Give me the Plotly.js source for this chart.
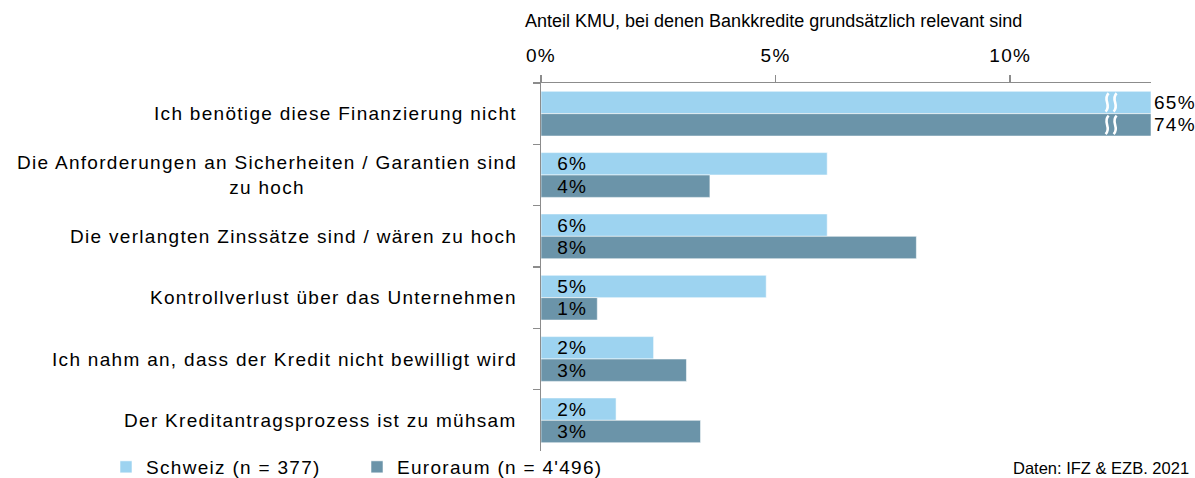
<!DOCTYPE html>
<html>
<head>
<meta charset="utf-8">
<script src="https://cdn.plot.ly/plotly-3.0.1.min.js"></script>
<style>
  html, body { margin: 0; padding: 0; background: #fff; }
  text[style*="Arial"] { letter-spacing: 1.3px; }
</style>
</head>
<body>
<div id="chart" style="width:1195px;height:478px;"></div>
<script>
// ---- data ----
const categories = [
  'Ich benötige diese Finanzierung nicht',
  'Die Anforderungen an Sicherheiten / Garantien sind<br>zu hoch',
  'Die verlangten Zinssätze sind / wären zu hoch',
  'Kontrollverlust über das Unternehmen',
  'Ich nahm an, dass der Kredit nicht bewilligt wird',
  'Der Kreditantragsprozess ist zu mühsam'
];
const schweiz  = [65, 6.1, 6.1, 4.8, 2.4, 1.6];
const euroraum = [74, 3.6, 8.0, 1.2, 3.1, 3.4];
const seriesNames = ['Schweiz (n = 377)', 'Euroraum (n = 4\'496)'];
const xTickVals = [0, 5, 10];
const xTickText = ['0%', '5%', '10%'];
const axisTitle = 'Anteil KMU, bei denen Bankkredite grundsätzlich relevant sind';
const sourceText = 'Daten: IFZ &amp; EZB. 2021';

// ---- styling ----
const axisMax = 13;
const breakAt = 12.15;
const spacedFont = 'Liberation Sans, Arial';
const plainFont = 'Liberation Sans';
const colors = ['#9DD3F0', '#6B94A9'];
const axisColor = '#8c8c8c';
const bargap = 0.27;

function makeTrace(vals, name, color) {
  return {
    type: 'bar',
    orientation: 'h',
    name: name,
    y: categories,
    x: vals.map(v => Math.min(v, axisMax)),
    text: vals.map(v => (v > axisMax ? '' : '\u00a0\u00a0') + Math.round(v) + '%'),
    textposition: vals.map(v => v > axisMax ? 'outside' : 'inside'),
    insidetextanchor: 'start',
    constraintext: 'none',
    cliponaxis: false,
    textfont: {family: spacedFont, size: 19, color: '#000'},
    insidetextfont: {family: spacedFont, size: 19, color: '#000'},
    outsidetextfont: {family: spacedFont, size: 19, color: '#000'},
    marker: {color: color, line: {color: 'rgba(255,255,255,0.55)', width: 1}},
    hoverinfo: 'skip'
  };
}

const traces = [
  makeTrace(schweiz, seriesNames[0], colors[0]),
  makeTrace(euroraum, seriesNames[1], colors[1])
];

const plotH = 478 - 83 - 27;
const catH = plotH / categories.length;
const barH = catH * (1 - bargap) / 2;

const annotations = [];
// category labels
categories.forEach(c => {
  annotations.push({
    xref: 'paper', yref: 'y', x: 0, y: c,
    xanchor: 'right', yanchor: 'middle', xshift: -22,
    align: 'center', text: c, showarrow: false,
    font: {family: spacedFont, size: 19, color: '#000'}
  });
});
// source
annotations.push({
  xref: 'paper', yref: 'paper', x: (1191 - 541) / 610, y: -17 / plotH,
  xanchor: 'right', yanchor: 'middle', text: sourceText, showarrow: false,
  font: {family: plainFont, size: 16.5, color: '#000'}
});

// axis-break marks (two white wavy strokes across each truncated bar)
function wave(x0, ya, yb) {
  const h = yb - ya;
  return 'M' + (x0 - 1.5) + ',' + ya +
         ' C' + (x0 + 5) + ',' + (ya + h * 0.35) + ' ' + (x0 - 5) + ',' + (ya + h * 0.65) + ' ' + (x0 + 1.5) + ',' + yb;
}
const shapes = [];
const truncated = categories.filter((c, i) => schweiz[i] > axisMax || euroraum[i] > axisMax);
truncated.forEach(c => {
  [[2, barH - 2], [-(barH - 2), -2]].forEach(([ya, yb]) => {
    shapes.push({
      type: 'path', xref: 'x', yref: 'y',
      xsizemode: 'pixel', ysizemode: 'pixel',
      xanchor: breakAt, yanchor: c,
      path: wave(-4, ya, yb) + ' ' + wave(4, ya, yb),
      line: {color: '#ffffff', width: 2.6},
      layer: 'above'
    });
  });
});

const layout = {
  width: 1195, height: 478,
  margin: {l: 541, r: 44, t: 83, b: 27, autoexpand: false},
  paper_bgcolor: '#fff', plot_bgcolor: '#fff',
  barmode: 'group', bargap: bargap, bargroupgap: 0,
  title: {
    text: axisTitle, xref: 'container', yref: 'container',
    x: 525 / 1195, xanchor: 'left', y: 1 - 21 / 478, yanchor: 'middle',
    font: {family: plainFont, size: 18, color: '#000'}
  },
  xaxis: {
    side: 'top', range: [0, axisMax], tickvals: xTickVals, ticktext: xTickText,
    showline: true, linecolor: axisColor, linewidth: 1.5,
    ticks: 'outside', ticklen: 7, tickcolor: axisColor, tickwidth: 1.5,
    showgrid: false, zeroline: false, ticklabelstandoff: 5,
    tickfont: {family: spacedFont, size: 19, color: '#000'}, fixedrange: true
  },
  yaxis: {
    type: 'category', autorange: 'reversed',
    showline: true, linecolor: axisColor, linewidth: 1.5,
    ticks: 'outside', tickson: 'boundaries', ticklen: 7, tickcolor: axisColor, tickwidth: 1.5,
    showticklabels: false, showgrid: false, zeroline: false, fixedrange: true
  },
  showlegend: true,
  legend: {
    orientation: 'h', x: (106 - 541) / 610, xanchor: 'left',
    y: -16 / plotH, yanchor: 'middle',
    font: {family: spacedFont, size: 19, color: '#000'},
    entrywidth: 206, entrywidthmode: 'pixels',
    bgcolor: 'rgba(0,0,0,0)'
  },
  shapes: shapes,
  annotations: annotations
};

Plotly.newPlot('chart', traces, layout, {displayModeBar: false, staticPlot: true});
</script>
</body>
</html>
